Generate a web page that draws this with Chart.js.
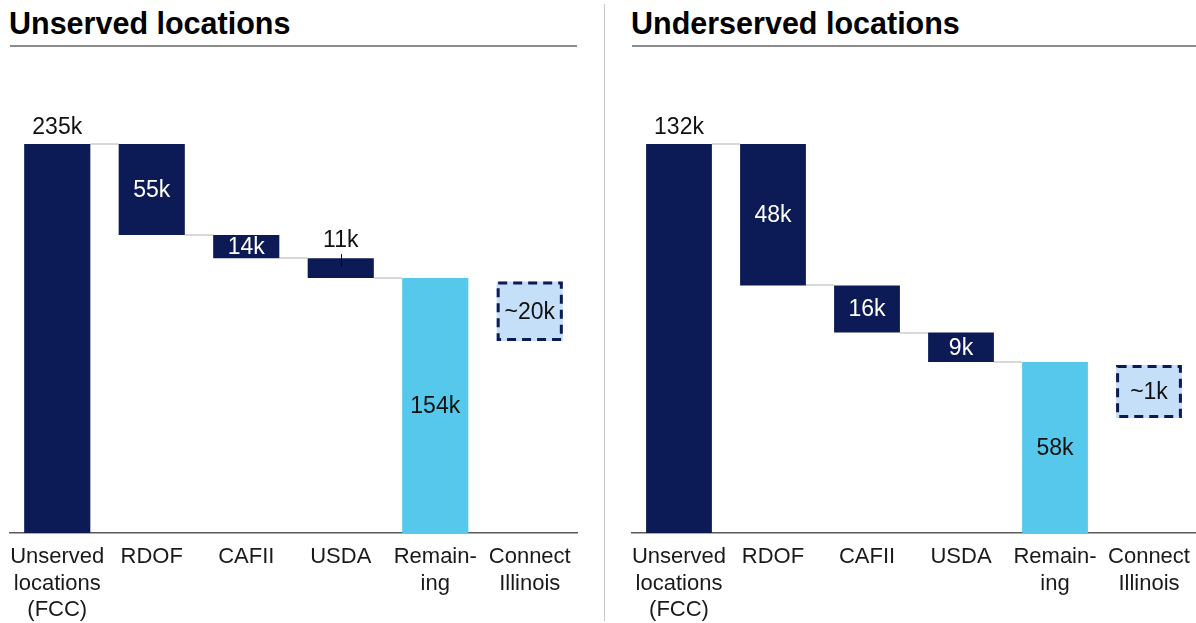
<!DOCTYPE html>
<html><head><meta charset="utf-8">
<script src="https://cdn.jsdelivr.net/npm/chart.js@4/dist/chart.umd.min.js"></script>
<style>
html,body{margin:0;padding:0;background:#fff;width:1196px;height:623px;overflow:hidden;font-family:"Liberation Sans",Arial,sans-serif;}
.title{position:absolute;font-weight:bold;font-size:30.5px;line-height:30px;color:#000;white-space:nowrap;}
.rule{position:absolute;height:2px;background:#8c8c8c;}
.divider{position:absolute;left:604px;top:4px;width:1px;height:617px;background:#c8c8c8;}
.chart{position:absolute;top:0;height:623px;}
canvas{display:block;}
</style></head><body>
<div class="title" style="left:9px;top:8px">Unserved locations</div>
<div class="rule" style="left:10px;top:45px;width:567px"></div>
<div class="divider"></div>
<div class="title" style="left:631px;top:8px">Underserved locations</div>
<div class="rule" style="left:632px;top:45px;width:564px"></div>
<div class="chart" style="left:0;width:600px"><canvas id="c1" width="600" height="623"></canvas></div>
<div class="chart" style="left:605px;width:591px"><canvas id="c2" width="591" height="623"></canvas></div>
<script>
// ---- data ----
const categories = [['Unserved','locations','(FCC)'], 'RDOF', 'CAFII', 'USDA', ['Remain-','ing'], ['Connect','Illinois']];
const barKinds = ['total','step','step','step','remaining','estimate'];

const unservedStart  = [0, 180, 166, 154, 0, 116];
const unservedEnd    = [235, 235, 180, 166, 154, 152];
const unservedLabels = ['235k','55k','14k','11k','154k','~20k'];

const underservedStart  = [0, 84, 68, 58, 0, 39];
const underservedEnd    = [132, 132, 84, 68, 58, 57];
const underservedLabels = ['132k','48k','16k','9k','58k','~1k'];

// ---- style ----
const NAVY = '#0c1a55', SKY = '#55c8ec', PALE = '#c5dff9', CONN = '#d9d9d9', INK = '#111111';
const FONT = '"Liberation Sans", Arial, sans-serif';
const kindColor = {total: NAVY, step: NAVY, remaining: SKY, estimate: PALE};

const waterfallPlugin = {
  id: 'waterfall',
  beforeDatasetsDraw(chart) {
    const meta = chart.getDatasetMeta(0), ctx = chart.ctx, y = chart.scales.y;
    const data = chart.data.datasets[0].data;
    ctx.save();
    ctx.strokeStyle = CONN; ctx.lineWidth = 2;
    for (let i = 0; i < meta.data.length - 1; i++) {
      if (barKinds[i + 1] === 'estimate') continue;
      const a = meta.data[i], b = meta.data[i + 1];
      const lvl = Math.round(y.getPixelForValue(data[i + 1][1]));
      ctx.beginPath();
      ctx.moveTo(a.x + a.width / 2, lvl);
      ctx.lineTo(b.x - b.width / 2, lvl);
      ctx.stroke();
    }
    ctx.restore();
  },
  afterDatasetsDraw(chart, args, opts) {
    const meta = chart.getDatasetMeta(0), ctx = chart.ctx;
    const labels = opts.labels;
    ctx.save();
    ctx.font = '23px ' + FONT;
    ctx.textAlign = 'center';
    ctx.textBaseline = 'middle';
    meta.data.forEach((el, i) => {
      const kind = barKinds[i];
      const top = Math.min(el.y, el.base), bot = Math.max(el.y, el.base);
      const h = bot - top, cx = el.x, mid = (top + bot) / 2;
      if (kind === 'estimate') {
        ctx.save();
        ctx.strokeStyle = NAVY; ctx.lineWidth = 3; ctx.setLineDash([9, 6]);
        ctx.strokeRect(cx - el.width / 2 + 1.5, top + 1.5, el.width - 3, h - 3);
        ctx.restore();
        ctx.fillStyle = INK;
        ctx.fillText(labels[i], cx, mid + 1);
      } else if (kind === 'total') {
        ctx.fillStyle = INK;
        ctx.fillText(labels[i], cx, top - 16);
      } else if (kind === 'remaining') {
        ctx.fillStyle = INK;
        ctx.fillText(labels[i], cx, mid + 1);
      } else {
        if (h >= 20) {
          ctx.fillStyle = '#ffffff';
          ctx.fillText(labels[i], cx, mid + 1);
        } else {
          ctx.fillStyle = INK;
          ctx.fillText(labels[i], cx, top - 18);
          ctx.strokeStyle = '#000'; ctx.lineWidth = 1;
          ctx.beginPath();
          ctx.moveTo(Math.round(cx) + 0.5, top - 4);
          ctx.lineTo(Math.round(cx) + 0.5, top + 8);
          ctx.stroke();
        }
      }
    });
    ctx.restore();
  }
};

function makeChart(id, starts, ends, labels, padLeft, padRight) {
  const data = starts.map((s, i) => [s, ends[i]]);
  return new Chart(document.getElementById(id), {
    type: 'bar',
    data: {
      labels: categories,
      datasets: [{
        data: data,
        backgroundColor: barKinds.map(k => kindColor[k]),
        borderWidth: 0,
        barPercentage: 0.7,
        categoryPercentage: 1.0
      }]
    },
    options: {
      responsive: false,
      animation: false,
      layout: {padding: {top: 144, left: padLeft, right: padRight, bottom: 0}},
      plugins: {
        legend: {display: false},
        tooltip: {enabled: false},
        waterfall: {labels: labels}
      },
      scales: {
        x: {
          grid: {display: false, drawTicks: false},
          border: {display: true, color: '#5a5a5a', width: 1.5},
          ticks: {
            color: '#1a1a1a', font: {family: FONT, size: 22, lineHeight: 1.2},
            padding: 11, maxRotation: 0, minRotation: 0, autoSkip: false
          },
          afterFit: (s) => { s.height = 90; s.paddingLeft = 0; s.paddingRight = 0; }
        },
        y: {
          display: false,
          min: 0,
          max: Math.max(...ends),
          grid: {display: false}
        }
      }
    },
    plugins: [waterfallPlugin]
  });
}

makeChart('c1', unservedStart, unservedEnd, unservedLabels, 10, 23);
makeChart('c2', underservedStart, underservedEnd, underservedLabels, 27, 0);
</script>
</body></html>
